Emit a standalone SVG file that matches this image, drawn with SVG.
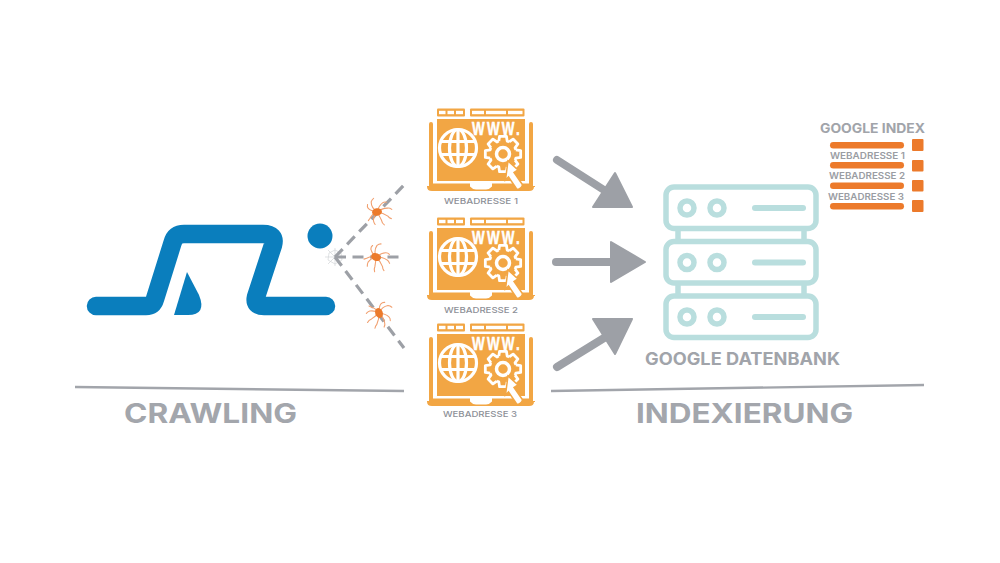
<svg xmlns="http://www.w3.org/2000/svg" width="1000" height="563" viewBox="0 0 1000 563">
<style>
text{font-family:Inter,"Open Sans","Liberation Sans",sans-serif;font-weight:700;fill:#a1a4aa}
.lap{font-size:8px;font-weight:500;fill:#8d9097}
.idx{font-size:9px;font-weight:600;fill:#9a9da3}
.big{font-size:27px;fill:#a3a6ac}
.dash{stroke:#9da0a6;stroke-width:3.2;stroke-dasharray:11 6.5;fill:none}
.srv{fill:none;stroke:#b9dede;stroke-width:5.5}
.srvb{fill:none;stroke:#b9dede;stroke-width:6;stroke-linecap:round}
.or{fill:#ec7a2b}
.arrow{fill:none;stroke:#9da0a6;stroke-width:8;stroke-linecap:round}
.arrowh{fill:#9da0a6;stroke:#9da0a6;stroke-width:2;stroke-linejoin:round}
.rule{stroke:#a2a5ab;stroke-width:2.4}
.cell{fill:#fff}
</style>
<defs>
<path id="tooth" d="M12.84 -4.17L17.67 -3.43V3.43L12.84 4.17A13.500 13.500 0 0 1 12.03 6.13" fill="none" stroke="#fff" stroke-width="2.800" stroke-linejoin="round"/>
<g id="laptop">
<rect x="437" y="108.500" width="28" height="8" rx="1" fill="#f2a644"/>
<rect x="470" y="108.500" width="54.500" height="8" rx="1" fill="#f2a644"/>
<rect class="cell" x="439" y="110.800" width="6.500" height="3.400"/>
<rect class="cell" x="447.500" y="110.800" width="6.500" height="3.400"/>
<rect class="cell" x="456" y="110.800" width="7" height="3.400"/>
<rect class="cell" x="472" y="110.800" width="12" height="3.400"/>
<rect class="cell" x="486" y="110.800" width="20" height="3.400"/>
<rect class="cell" x="508" y="110.800" width="14.500" height="3.400"/>
<path d="M437 119H525V181H437Z" fill="#f2a644"/>
<path d="M431 122Q433 122 433 124V183.500H470V187H427V186H429V124Q429 122 431 122ZM531 122Q529 122 529 124V183.500H492V187H535V186H533V124Q533 122 531 122Z" fill="#f2a644"/>
<path d="M427 186.500H470Q472 189 476 189.500H486Q490 189 492 186.500H534Q534 191 529 191H432Q427 191 427 186.500Z" fill="#f2a644"/>
<text x="472" y="135" font-size="18" letter-spacing="3" textLength="50" lengthAdjust="spacingAndGlyphs" style="fill:#fff;stroke:#fff;stroke-width:.5;font-weight:700;font-family:'Liberation Sans',sans-serif">WWW.</text>
<g fill="none" stroke="#fff" stroke-width="3.200">
<circle cx="458" cy="148" r="18.500"/>
<ellipse cx="458" cy="148" rx="8.500" ry="18.500"/>
<path d="M458 129.500V166.500M441.500 141.500H474.500M441.500 154.500H474.500"/>
</g>
<g transform="translate(503 154)">
<use href="#tooth"/><use href="#tooth" transform="rotate(45)"/><use href="#tooth" transform="rotate(90)"/><use href="#tooth" transform="rotate(135)"/><use href="#tooth" transform="rotate(180)"/><use href="#tooth" transform="rotate(225)"/><use href="#tooth" transform="rotate(270)"/><use href="#tooth" transform="rotate(315)"/>
<circle r="6.500" fill="none" stroke="#fff" stroke-width="3.500"/>
</g>
<path d="M508 161L518 170L514 172.500L522 184Q523 186 521 187.500L519 189Q517 190 516 188L508.500 177L505.500 180Z" fill="#fff" stroke="#f2a644" stroke-width="1.500"/>
</g>
<g id="spider">
<g fill="none" stroke="#f1a070" stroke-width="1.100" stroke-linecap="round">
<path d="M0 0Q-5 -5 -4 -11Q-3 -13 -1 -14"/>
<path d="M0 0Q3 -6 7 -8Q9 -9 11 -8"/>
<path d="M0 0Q6 -3 11 -2Q13 -2 15 0"/>
<path d="M0 0Q6 2 10 6Q11 8 13 9"/>
<path d="M0 0Q2 5 3 9Q3 12 5 14"/>
<path d="M0 0Q-4 3 -5 8Q-5 10 -4 12"/>
<path d="M0 0Q-5 1 -8 5Q-9 6 -10 7"/>
<path d="M0 0Q-6 -2 -8 -5Q-9 -7 -8 -9"/>
</g>
<ellipse cx="0" cy="0" rx="5" ry="3.800" fill="#ec7a2b"/>
</g>
</defs>
<rect width="1000" height="563" fill="#fff"/>

<g id="logo" fill="#0a7ebd">
<path d="M96 306H146Q153 306 155 299L172.500 243Q175 234 184 234H263Q276 234 273 245L256 297Q254 306 264 306H326" fill="none" stroke="#0a7ebd" stroke-width="18.500" stroke-linecap="round"/>
<path d="M187 272L199 295Q207 315 188 315H174Z"/>
<circle cx="320" cy="236" r="12.500"/>
</g>

<g id="web" fill="none" stroke="#d3d5d9" stroke-width="0.700">
<path d="M325 257H345M335 248V266M328 250L342 264M342 250L328 264M329 253L335 250L341 253L342 260L335 264L328 260Z"/>
</g>

<g id="connectors">
<path class="dash" d="M335 257L404 185"/>
<path class="dash" d="M335 257H404"/>
<path class="dash" d="M335 257L404 348"/>
<path class="arrow" d="M557 160L604 190"/>
<path class="arrowh" d="M632 207L593 207L615 173Z"/>
<path class="arrow" d="M556 262H612"/>
<path class="arrowh" d="M645 262L611 242V282Z"/>
<path class="arrow" d="M557 367L604 338"/>
<path class="arrowh" d="M632 319L593 319L615 354Z"/>
</g>

<g id="spider1"><use href="#spider" transform="translate(377 212) rotate(-10)"/></g>
<g id="spider2"><use href="#spider" transform="translate(376 257) rotate(25)"/></g>
<g id="spider3"><use href="#spider" transform="translate(379 313) rotate(70)"/></g>

<g id="site1"><use href="#laptop"/><text class="lap" x="481" y="204" text-anchor="middle" textLength="74" lengthAdjust="spacingAndGlyphs">WEBADRESSE 1</text></g>
<g id="site2"><use href="#laptop" y="109"/><text class="lap" x="481" y="313" text-anchor="middle" textLength="74" lengthAdjust="spacingAndGlyphs">WEBADRESSE 2</text></g>
<g id="site3"><use href="#laptop" y="215"/><text class="lap" x="480" y="417" text-anchor="middle" textLength="74" lengthAdjust="spacingAndGlyphs">WEBADRESSE 3</text></g>

<g id="database">
<rect class="srv" x="666" y="187" width="150" height="41.500" rx="8"/>
<rect class="srv" x="666" y="241.500" width="150" height="41.500" rx="8"/>
<rect class="srv" x="666" y="296" width="150" height="41.500" rx="8"/>
<path class="srv" d="M678 228.500V241.500M804 228.500V241.500M678 283V296M804 283V296"/>
<circle class="srv" cx="687" cy="208" r="7"/><circle class="srv" cx="717" cy="208" r="7"/><path class="srvb" d="M755 208H803"/>
<circle class="srv" cx="687" cy="262.500" r="7"/><circle class="srv" cx="717" cy="262.500" r="7"/><path class="srvb" d="M755 262.500H803"/>
<circle class="srv" cx="687" cy="317" r="7"/><circle class="srv" cx="717" cy="317" r="7"/><path class="srvb" d="M755 317H803"/>
<text x="645" y="365" font-size="17" textLength="195" lengthAdjust="spacingAndGlyphs">GOOGLE DATENBANK</text>
</g>

<g id="index">
<text x="820" y="133" font-size="13" textLength="105" lengthAdjust="spacingAndGlyphs">GOOGLE INDEX</text>
<rect class="or" x="830" y="142" width="74" height="6.500" rx="3.250"/>
<rect class="or" x="830" y="162" width="74" height="6.500" rx="3.250"/>
<rect class="or" x="830" y="182.500" width="74" height="6.500" rx="3.250"/>
<rect class="or" x="830" y="203" width="74" height="6.500" rx="3.250"/>
<rect class="or" x="912" y="139" width="11.500" height="12" rx="1"/>
<rect class="or" x="912" y="160" width="11.500" height="11.500" rx="1"/>
<rect class="or" x="912" y="180" width="11.500" height="11.500" rx="1"/>
<rect class="or" x="912" y="200" width="11.500" height="12" rx="1"/>
<text class="idx" x="830" y="159" textLength="75" lengthAdjust="spacingAndGlyphs">WEBADRESSE 1</text>
<text class="idx" x="829" y="179" textLength="76" lengthAdjust="spacingAndGlyphs">WEBADRESSE 2</text>
<text class="idx" x="828" y="200" textLength="76" lengthAdjust="spacingAndGlyphs">WEBADRESSE 3</text>
</g>

<g id="crawling">
<path class="rule" d="M75 387L404 391"/>
<text class="big" x="124" y="423" textLength="173" lengthAdjust="spacingAndGlyphs">CRAWLING</text>
</g>
<g id="indexierung">
<path class="rule" d="M551 391L924 385"/>
<text class="big" x="636" y="423" textLength="217" lengthAdjust="spacingAndGlyphs">INDEXIERUNG</text>
</g>
</svg>
